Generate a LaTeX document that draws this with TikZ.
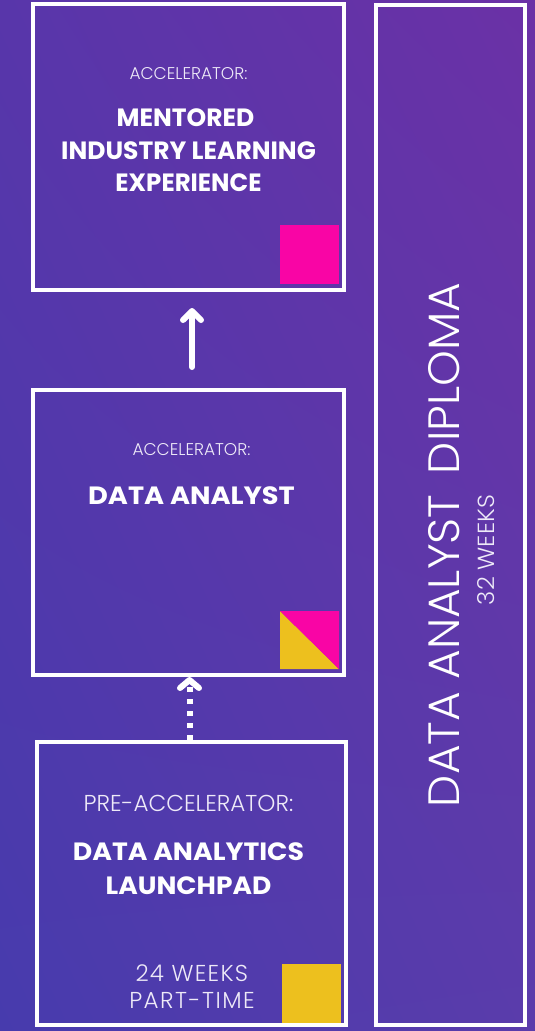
\documentclass[tikz,border=0pt]{standalone}
\usepackage{fontspec}
\usepackage{graphicx}
\usetikzlibrary{arrows.meta,shadings}
\IfFontExistsTF{Poppins Light}{\newfontfamily\lightf{Poppins Light}}{\newfontfamily\lightf{Poppins}}
\newfontfamily\poppf{Poppins}
\definecolor{bgUL}{HTML}{5836AA}
\definecolor{bgUR}{HTML}{6B31A6}
\definecolor{bgLL}{HTML}{473BAD}
\definecolor{bgLR}{HTML}{5A3CAB}
\definecolor{hotpink}{HTML}{F905A5}
\definecolor{gold}{HTML}{EDC01E}
\definecolor{softwhite}{HTML}{EEEAF8}
\newcommand{\widen}[2]{\scalebox{#1}[1]{#2}}
\begin{document}
\begin{tikzpicture}[x=1pt,y=-1pt,
  box/.style={draw=white, line width=4pt, inner sep=0pt},
  innerline/.style={draw=white, draw opacity=0.3, line width=0.7pt},
  lighttxt/.style={inner sep=0pt, anchor=base, text=softwhite, font=\lightf\fontsize{17}{20}\selectfont},
  lighttxtL/.style={inner sep=0pt, anchor=base, text=softwhite, font=\lightf\fontsize{23}{27}\selectfont},
  boldtxt/.style={inner sep=0pt, anchor=base, text=white, font=\poppf\bfseries\fontsize{25}{30}\selectfont},
  solidarrow/.style={draw=white, line width=6pt, line cap=round, -{Straight Barb[round, length=9pt, width=18pt]}},
  dotarrow/.style={draw=white, line width=6pt, line cap=butt, dash pattern=on 5pt off 7pt, -{Straight Barb[round, length=8pt, width=19pt]}}
]
\shade[upper left=bgUL, upper right=bgUR, lower left=bgLL, lower right=bgLR] (0,0) rectangle (535,1031);
\useasboundingbox (0,0) rectangle (535,1031);

% boxes
\node[box, minimum width=311pt, minimum height=286pt] (b1) at (188.5,147) {};
\node[box, minimum width=311pt, minimum height=285pt] (b2) at (188.5,532.5) {};
\node[box, minimum width=309pt, minimum height=283pt] (b3) at (191.5,883.5) {};
\node[box, minimum width=149pt, minimum height=1020pt] (b4) at (450.5,515) {};
\foreach \b in {b1,b2,b3,b4}{
  \draw[innerline] ([shift={(3,3)}]\b.north west) rectangle ([shift={(-3,-3)}]\b.south east);
}

% corner marks
\fill[hotpink] (280,225) rectangle (339,284);
\fill[gold] (280,611) -- (280,669) -- (339,669) -- cycle;
\fill[hotpink] (280,611) -- (339,611) -- (339,669) -- cycle;
\fill[gold] (282,964) rectangle (341,1023);

% box 1 text
\node[lighttxt] (t1a) at (188.5,79.3) {ACCELERATOR:};
\node[boldtxt] (t1b) at (185.5,126.7) {MENTORED};
\node[boldtxt] (t1c) at (188.5,159.3) {INDUSTRY LEARNING};
\node[boldtxt] (t1d) at (188.5,191.7) {\widen{0.98}{EXPERIENCE}};

% box 2 text
\node[lighttxt] (t2a) at (191.5,455) {ACCELERATOR:};
\node[boldtxt] (t2b) at (191.5,504) {\widen{1.09}{DATA ANALYST}};

% box 3 text
\node[lighttxtL] (t3a) at (188.5,811) {PRE-ACCELERATOR:};
\node[boldtxt] (t3b) at (188.5,860) {\widen{1.07}{DATA ANALYTICS}};
\node[boldtxt] (t3c) at (188.5,894) {\widen{1.06}{LAUNCHPAD}};
\node[lighttxtL] (t3d) at (191.8,981) {\addfontfeature{LetterSpace=5.5}24 WEEKS};
\node[lighttxtL] (t3e) at (192,1008.3) {\addfontfeature{LetterSpace=6.5}PART-TIME};

% diploma
\node[rotate=90, inner sep=0pt, text=white] (dip) at (444.5,545)
  {\resizebox{524pt}{31pt}{\lightf DATA ANALYST\hspace{0.45em}DIPLOMA}};
\node[rotate=90, inner sep=0pt, text=softwhite] (wk) at (486.5,550)
  {\resizebox{110pt}{17pt}{\lightf 32 WEEKS}};

% arrows
\coordinate (a1s) at (192,367);
\draw[solidarrow, shorten >=16pt] (a1s) -- (a1s |- b1.south);
\coordinate (a2s) at (189.5,740);
\draw[dotarrow] (a2s) -- (a2s |- b2.south);
\end{tikzpicture}
\end{document}
